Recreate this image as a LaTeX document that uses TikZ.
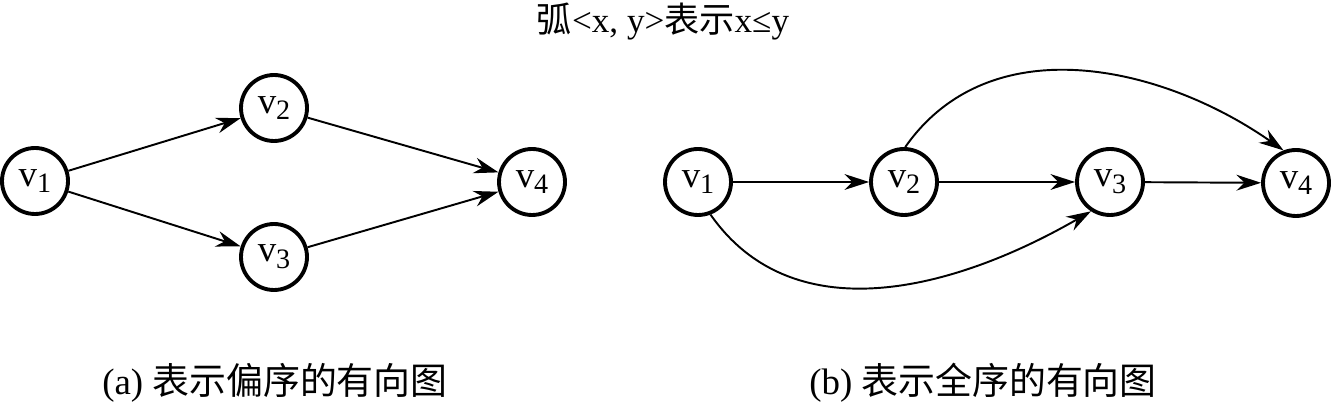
\documentclass[tikz,border=0pt]{standalone}
\usepackage{fontspec}
\setmainfont{Liberation Serif}
\newfontfamily\cjk{Noto Sans CJK SC}
\usetikzlibrary{arrows.meta}
\tikzset{
  vertex/.style={circle,draw,line width=2.2pt,minimum size=1.32cm,inner sep=0pt,font=\fontsize{21}{21}\selectfont},
  arc/.style={-{Stealth[length=14pt,width=9pt]},line width=1.1pt},
}
\newcommand{\vx}[1]{v\raisebox{-0.4ex}{\fontsize{16}{16}\selectfont #1}}
\begin{document}
\begin{tikzpicture}[x=0.02cm,y=0.02cm]
  \useasboundingbox(0,0) rectangle (1334,-404);
  \node(title) at (663,-22) {\fontsize{20}{20}\selectfont{\cjk 弧}<x, y>{\cjk 表示}x≤y};
  % (a)
  \node[vertex](a1) at (35,-181) {\vx{1}};
  \node[vertex](a2) at (274,-108) {\vx{2}};
  \node[vertex](a3) at (274,-257) {\vx{3}};
  \node[vertex](a4) at (532,-182) {\vx{4}};
  \draw[arc](a1)--(a2);
  \draw[arc](a1)--(a3);
  \draw[arc](a2)--(a4);
  \draw[arc](a3)--(a4);
  \node(capa) at (275,-383) {\fontsize{21}{21}\selectfont (a) {\cjk 表示偏序的有向图}};
  % (b)
  \node[vertex](b1) at (698,-182) {\vx{1}};
  \node[vertex](b2) at (904,-182) {\vx{2}};
  \node[vertex](b3) at (1110,-182) {\vx{3}};
  \node[vertex](b4) at (1296,-183) {\vx{4}};
  \draw[arc](b1)--(b2);
  \draw[arc](b2)--(b3);
  \draw[arc](b3)--(b4);
  \draw[arc](b2.88) to[out=55,in=145] (b4.111);
  \draw[arc](b1.-69) to[out=-55,in=-150] (b3.-123);
  \node(capb) at (983,-383) {\fontsize{21}{21}\selectfont (b) {\cjk 表示全序的有向图}};
\end{tikzpicture}
\end{document}
